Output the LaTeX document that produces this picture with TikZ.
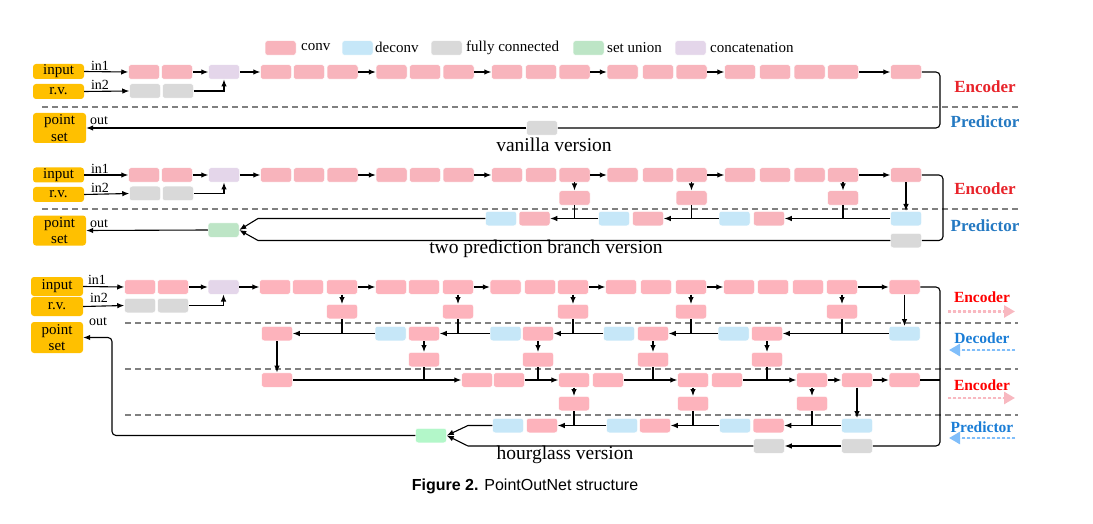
\documentclass[tikz,border=0pt]{standalone}
\usepackage{fontspec}
\setmainfont{Liberation Serif}
\newfontfamily\capfont{Liberation Sans}
\usetikzlibrary{arrows.meta}
\definecolor{convc}{HTML}{F8B4BC}
\definecolor{conv3}{HTML}{FDB3BC}
\definecolor{deconvc}{HTML}{C6E7F8}
\definecolor{fcc}{HTML}{D9D9D9}
\definecolor{unionc}{HTML}{BDE5C6}
\definecolor{union3}{HTML}{B3F7C9}
\definecolor{catc}{HTML}{E4D6EA}
\definecolor{ioc}{HTML}{FFC000}
\definecolor{encred}{HTML}{E8232A}
\definecolor{encred3}{HTML}{FF0000}
\definecolor{predblue}{HTML}{2479C2}
\definecolor{predblue3}{HTML}{1A7DD6}
\definecolor{dotpink}{HTML}{F8B8C0}
\definecolor{dotblue}{HTML}{80BEFA}
\begin{document}
\begin{tikzpicture}[x=1pt,y=-1pt,
  box/.style={draw=white, line width=0.5pt, rounded corners=2.5pt, minimum width=31pt, minimum height=14.5pt, inner sep=0pt},
  cv/.style={box, fill=convc},
  cvt/.style={box, fill=conv3},
  dc/.style={box, fill=deconvc},
  fcb/.style={box, fill=fcc},
  su/.style={box, fill=unionc},
  cc/.style={box, fill=catc},
  io/.style={fill=ioc, rounded corners=3pt, minimum width=51pt, minimum height=15pt, inner sep=0pt, font=\fontsize{15}{15}\selectfont},
  psb/.style={io, minimum width=53pt, minimum height=30pt, align=center},
  arr/.style={-{Latex[length=7pt,width=5.5pt]}, line width=1.1pt},
  conn/.style={line width=1.1pt},
  sepline/.style={dash pattern=on 6pt off 4pt, draw=black!50, line width=1.1pt},
  lab/.style={font=\fontsize{14}{14}\selectfont, inner sep=0pt},
  vlab/.style={font=\fontsize{19.5}{20}\selectfont, inner sep=0pt},
  leg/.style={font=\fontsize{15}{15}\selectfont, anchor=west, inner sep=0pt},
  sidelab/.style={font=\bfseries\fontsize{17}{17}\selectfont, inner sep=0pt},
  sidelabs/.style={font=\bfseries\fontsize{15.5}{15.5}\selectfont, inner sep=0pt},
  dotarr/.style={line width=2.6pt, dash pattern=on 2.6pt off 2.4pt, -{Triangle[length=11pt,width=12pt,sep=0pt]}}
]
\useasboundingbox (0,0) rectangle (1093,524);

% ---------------- legend ----------------
\node[cv] (l1) at (280.5,48) {};
\node[leg] (l1t) at (301,47.5) {conv};
\node[dc] (l2) at (357.5,48) {};
\node[leg] (l2t) at (375,47.5) {deconv};
\node[fcb] (l3) at (446.5,48) {};
\node[leg] (l3t) at (466,47.5) {fully connected};
\node[su] (l4) at (588.5,48) {};
\node[leg] (l4t) at (607,47.5) {set union};
\node[cc] (l5) at (690.5,48) {};
\node[leg] (l5t) at (710,47.5) {concatenation};

% ---------------- vanilla version ----------------
\draw[sepline] (42,107) -- (1020,107);
\foreach \x [count=\i] in {144,177,276,309,342.5,391.5,425,458.5,507,541,574.5,622.5,658,691.5,740,775,809.5,843,906}
  \node[cv] (a\i) at (\x,72) {};
\node[cc] (acat) at (224,72) {};
\node[fcb] (ag1) at (145,91) {};
\node[fcb] (ag2) at (178,91) {};
\node[io] (ain) at (58.5,71.5) {input};
\node[io] (arv) at (58.5,91.5) {r.v.};
\node[psb] (aps) at (59.5,128) {point\\[1.5pt]set};
\node[fcb] (afc) at (542,128) {};
\node[lab] (ain1) at (100,66) {in1};
\node[lab] (ain2) at (100,85) {in2};
\node[lab] (aout) at (99,121) {out};
\draw[arr] (ain.east) -- (a1.west);
\draw[arr] (arv.east) -- (ag1.west);
\draw[arr] (a2.east) -- (acat.west);
\draw[arr] (ag2.east) -| (acat.south);
\draw[arr] (acat.east) -- (a3.west);
\draw[arr] (a5.east) -- (a6.west);
\draw[arr] (a8.east) -- (a9.west);
\draw[arr] (a11.east) -- (a12.west);
\draw[arr] (a14.east) -- (a15.west);
\draw[arr] (a18.east) -- (a19.west);
\draw[conn, rounded corners=4pt] (a19.east) -- (940,72) -- (940,128) -- (afc.east);
\draw[arr] (afc.west) -- (aps.east);
\node[sidelab, text=encred] (aenc) at (985,87) {Encoder};
\node[sidelab, text=predblue] (apred) at (985,122) {Predictor};
\node[vlab] (atitle) at (554,145) {vanilla version};

% ---------------- two prediction branch version ----------------
\draw[sepline] (42,209) -- (1020,209);
\foreach \x [count=\i] in {144,177,276,309,342.5,391.5,425,458.5,507,541,574.5,622.5,658,691.5,740,775,809.5,843,906}
  \node[cv] (b\i) at (\x,175) {};
\node[cc] (bcat) at (224,175) {};
\node[fcb] (bg1) at (145,193.5) {};
\node[fcb] (bg2) at (178,193.5) {};
\node[io] (bin) at (58.5,175) {input};
\node[io] (brv) at (58.5,194.5) {r.v.};
\node[psb] (bps) at (59.5,230.5) {point\\[1.5pt]set};
\node[lab] (bin1) at (100,169) {in1};
\node[lab] (bin2) at (100,188) {in2};
\node[lab] (bout) at (99,224) {out};
\node[cv] (bk1) at (574.5,198) {};
\node[cv] (bk2) at (691.5,198) {};
\node[cv] (bk3) at (843,198) {};
\node[dc] (bp1) at (501,218.5) {};
\node[cv] (bp2) at (534.5,218.5) {};
\node[dc] (bp3) at (614,218.5) {};
\node[cv] (bp4) at (648,218.5) {};
\node[dc] (bp5) at (734.5,218.5) {};
\node[cv] (bp6) at (769,218.5) {};
\node[dc] (bp7) at (906,218.5) {};
\node[fcb] (bgg) at (906,240.5) {};
\node[su] (bu) at (223.5,230) {};
\draw[arr] (bin.east) -- (b1.west);
\draw[arr] (brv.east) -- (bg1.west);
\draw[arr] (b2.east) -- (bcat.west);
\draw[arr] (bg2.east) -| (bcat.south);
\draw[arr] (bcat.east) -- (b3.west);
\draw[arr] (b5.east) -- (b6.west);
\draw[arr] (b8.east) -- (b9.west);
\draw[arr] (b11.east) -- (b12.west);
\draw[arr] (b14.east) -- (b15.west);
\draw[arr] (b18.east) -- (b19.west);
\draw[arr] (b11.south) -- (bk1.north);
\draw[arr] (b14.south) -- (bk2.north);
\draw[arr] (b18.south) -- (bk3.north);
\draw[arr] (b19.south) -- (bp7.north);
\draw[arr] (bp7.west) -- (bp6.east);
\draw[conn] (bk3.south) -- (bk3.south |- bp7.west);
\draw[arr] (bp5.west) -- (bp4.east);
\draw[conn] (bk2.south) -- (bk2.south |- bp5.west);
\draw[arr] (bp3.west) -- (bp2.east);
\draw[conn] (bk1.south) -- (bk1.south |- bp3.west);
\draw[arr] (bp1.west) -- (258,218.5) -- (bu.east);
\draw[arr] (bgg.west) -- (258,240.5) -- (bu.east);
\draw[arr] (bu.west) -- (bps.east);
\draw[conn, rounded corners=4pt] (b19.east) -- (943,175) -- (943,240.5) -- (bgg.east);
\node[sidelab, text=encred] (benc) at (985,189) {Encoder};
\node[sidelab, text=predblue] (bpred) at (985,226) {Predictor};
\node[vlab] (btitle) at (546,249) {two prediction branch version};

% ---------------- hourglass version ----------------
\draw[sepline] (125,323) -- (1018,323);
\draw[sepline] (125,369) -- (1018,369);
\draw[sepline] (125,415) -- (1018,415);
\foreach \x [count=\i] in {140,173,275,308,342,391,424,458,505.5,540,573,621,656,691,739,773,808,842,904.5}
  \node[cvt] (c\i) at (\x,287) {};
\node[cc] (ccat) at (223.5,287) {};
\node[fcb] (cg1) at (140,305.5) {};
\node[fcb] (cg2) at (173,305.5) {};
\node[io, minimum width=52pt, minimum height=19pt] (cin) at (57,286.5) {input};
\node[io, minimum width=52pt, minimum height=19pt] (crv) at (57,306.5) {r.v.};
\node[psb, minimum width=52pt, minimum height=31pt] (cps) at (57,337.5) {point\\[1.5pt]set};
\node[lab] (cin1) at (97,280) {in1};
\node[lab] (cin2) at (99,298) {in2};
\node[lab] (cout) at (98,322) {out};
% branch 1
\node[cvt] (ck1) at (342,311.5) {};
\node[cvt] (ck2) at (458,311.5) {};
\node[cvt] (ck3) at (573,311.5) {};
\node[cvt] (ck4) at (691,311.5) {};
\node[cvt] (ck5) at (842,311.5) {};
% decoder row
\node[cvt] (cd1) at (277,333.5) {};
\node[dc] (cd2) at (390.5,333.5) {};
\node[cvt] (cd3) at (424,333.5) {};
\node[dc] (cd4) at (505.5,333.5) {};
\node[cvt] (cd5) at (538,333.5) {};
\node[dc] (cd6) at (619,333.5) {};
\node[cvt] (cd7) at (653,333.5) {};
\node[dc] (cd8) at (733.5,333.5) {};
\node[cvt] (cd9) at (767,333.5) {};
\node[dc] (cd10) at (904.5,333.5) {};
% branch 2
\node[cvt] (cm1) at (424,359.5) {};
\node[cvt] (cm2) at (538,359.5) {};
\node[cvt] (cm3) at (653,359.5) {};
\node[cvt] (cm4) at (767,359.5) {};
% second encoder row
\node[cvt] (ce1) at (277,380) {};
\node[cvt] (ce2) at (477,380) {};
\node[cvt] (ce3) at (509,380) {};
\node[cvt] (ce4) at (574,380) {};
\node[cvt] (ce5) at (608,380) {};
\node[cvt] (ce6) at (693,380) {};
\node[cvt] (ce7) at (727,380) {};
\node[cvt] (ce8) at (812,380) {};
\node[cvt] (ce9) at (857,380) {};
\node[cvt] (ce10) at (904.5,380) {};
% branch 3
\node[cvt] (cn1) at (574,403.5) {};
\node[cvt] (cn2) at (693,403.5) {};
\node[cvt] (cn3) at (812,403.5) {};
% predictor row
\node[dc] (cq1) at (508,425.5) {};
\node[cvt] (cq2) at (542,425.5) {};
\node[dc] (cq3) at (622,425.5) {};
\node[cvt] (cq4) at (655,425.5) {};
\node[dc] (cq5) at (735,425.5) {};
\node[cvt] (cq6) at (768.5,425.5) {};
\node[dc] (cq7) at (857,425.5) {};
\node[fcb] (cr1) at (769,446) {};
\node[fcb] (cr2) at (857,446) {};
\node[box, fill=union3] (cu) at (431,435.5) {};
% connectors
\draw[arr] (cin.east) -- (c1.west);
\draw[arr] (crv.east) -- (cg1.west);
\draw[arr] (c2.east) -- (ccat.west);
\draw[arr] (cg2.east) -| (ccat.south);
\draw[arr] (ccat.east) -- (c3.west);
\draw[arr] (c5.east) -- (c6.west);
\draw[arr] (c8.east) -- (c9.west);
\draw[arr] (c11.east) -- (c12.west);
\draw[arr] (c14.east) -- (c15.west);
\draw[arr] (c18.east) -- (c19.west);
\draw[arr] (c5.south) -- (ck1.north);
\draw[arr] (c8.south) -- (ck2.north);
\draw[arr] (c11.south) -- (ck3.north);
\draw[arr] (c14.south) -- (ck4.north);
\draw[arr] (c18.south) -- (ck5.north);
\draw[arr] (c19.south) -- (cd10.north);
\draw[arr] (cd10.west) -- (cd9.east);
\draw[conn] (ck5.south) -- (ck5.south |- cd10.west);
\draw[arr] (cd8.west) -- (cd7.east);
\draw[conn] (ck4.south) -- (ck4.south |- cd8.west);
\draw[arr] (cd6.west) -- (cd5.east);
\draw[conn] (ck3.south) -- (ck3.south |- cd6.west);
\draw[arr] (cd4.west) -- (cd3.east);
\draw[conn] (ck2.south) -- (ck2.south |- cd4.west);
\draw[arr] (cd2.west) -- (cd1.east);
\draw[conn] (ck1.south) -- (ck1.south |- cd2.west);
\draw[arr] (cd3.south) -- (cm1.north);
\draw[arr] (cd5.south) -- (cm2.north);
\draw[arr] (cd7.south) -- (cm3.north);
\draw[arr] (cd9.south) -- (cm4.north);
\draw[arr] (cd1.south) -- (ce1.north);
\draw[arr] (ce1.east) -- (ce2.west);
\draw[conn] (cm1.south) -- (cm1.south |- ce1.east);
\draw[arr] (ce3.east) -- (ce4.west);
\draw[conn] (cm2.south) -- (cm2.south |- ce3.east);
\draw[arr] (ce5.east) -- (ce6.west);
\draw[conn] (cm3.south) -- (cm3.south |- ce5.east);
\draw[arr] (ce7.east) -- (ce8.west);
\draw[conn] (cm4.south) -- (cm4.south |- ce7.east);
\draw[arr] (ce8.east) -- (ce9.west);
\draw[arr] (ce9.east) -- (ce10.west);
\draw[conn] (ce10.east) -- (940,380);
\draw[arr] (ce4.south) -- (cn1.north);
\draw[arr] (ce6.south) -- (cn2.north);
\draw[arr] (ce8.south) -- (cn3.north);
\draw[arr] (ce9.south) -- (cq7.north);
\draw[arr] (cq7.west) -- (cq6.east);
\draw[conn] (cn3.south) -- (cn3.south |- cq7.west);
\draw[arr] (cq5.west) -- (cq4.east);
\draw[conn] (cn2.south) -- (cn2.south |- cq5.west);
\draw[arr] (cq3.west) -- (cq2.east);
\draw[conn] (cn1.south) -- (cn1.south |- cq3.west);
\draw[arr] (cq1.west) -- (468,425.5) -- (cu.east);
\draw[arr] (cr2.west) -- (cr1.east);
\draw[arr] (cr1.west) -- (468,446) -- (cu.east);
\draw[arr, rounded corners=4pt] (cu.west) -- (112,435.5) -- (112,337.5) -- (cps.east);
\draw[conn, rounded corners=4pt] (c19.east) -- (940,287) -- (940,446) -- (cr2.east);
% side labels
\node[sidelabs, text=encred3] (cenc1) at (982,297) {Encoder};
\coordinate (cda1) at (948,311.5);
\coordinate (cdb1) at (1015,311.5);
\draw[dotarr, draw=dotpink, fill=dotpink] (cda1) -- (cdb1);
\node[sidelabs, text=predblue3] (cdec) at (982,338) {Decoder};
\coordinate (cda2) at (1015,350);
\coordinate (cdb2) at (949,350);
\draw[dotarr, draw=dotblue, fill=dotblue] (cda2) -- (cdb2);
\node[sidelabs, text=encred3] (cenc2) at (982,385) {Encoder};
\coordinate (cda3) at (948,398);
\coordinate (cdb3) at (1015,398);
\draw[dotarr, draw=dotpink, fill=dotpink] (cda3) -- (cdb3);
\node[sidelabs, text=predblue3] (cpred) at (982,427) {Predictor};
\coordinate (cda4) at (1015,438);
\coordinate (cdb4) at (949,438);
\draw[dotarr, draw=dotblue, fill=dotblue] (cda4) -- (cdb4);
\node[vlab] (ctitle) at (565,455) {hourglass version};

% caption
\node[inner sep=0pt, font=\capfont\fontsize{16}{16}\selectfont] (cap) at (525,486) {\textbf{Figure 2.} PointOutNet structure};
\end{tikzpicture}
\end{document}
